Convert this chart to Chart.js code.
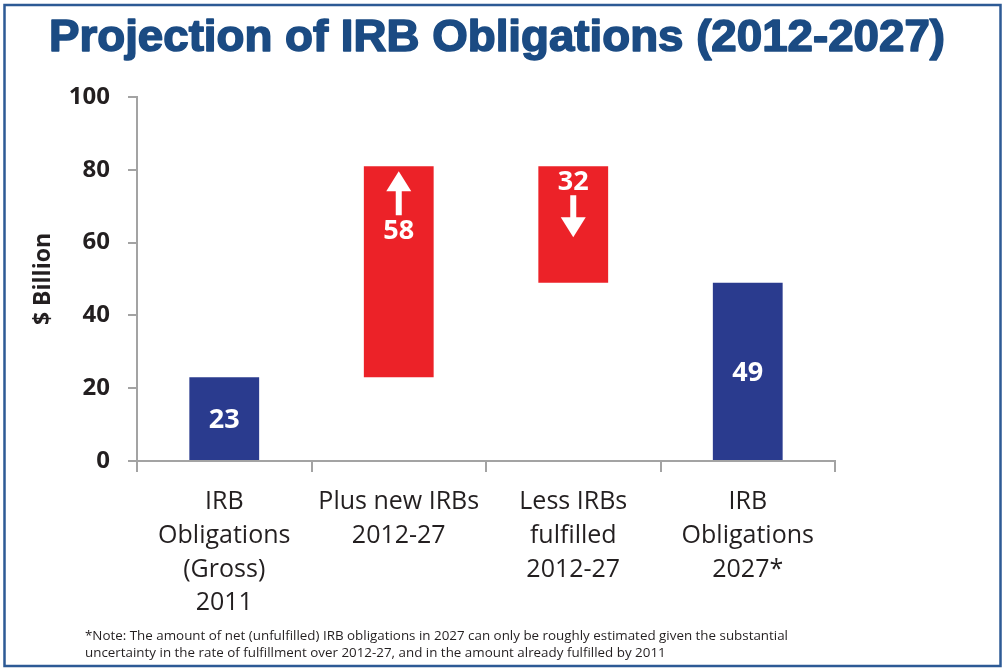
<!DOCTYPE html>
<html>
<head>
<meta charset="utf-8">
<title>Projection of IRB Obligations (2012-2027)</title>
<script src="https://cdn.jsdelivr.net/npm/chart.js@4.4.1/dist/chart.umd.min.js"></script>
<style>
    html, body { margin: 0; padding: 0; background: #ffffff; }
    #irbChart { display: block; }
</style>
</head>
<body>
<canvas id="irbChart" width="1003" height="669"></canvas>
<script>
const chartTitle = "Projection of IRB Obligations (2012-2027)";
const categories = [
    ["IRB", "Obligations", "(Gross)", "2011"],
    ["Plus new IRBs", "2012-27"],
    ["Less IRBs", "fulfilled", "2012-27"],
    ["IRB", "Obligations", "2027*"]
];
const stepValues = [23, 58, -32, 49];
const stepKinds = ["total", "increase", "decrease", "total"];
const yTicks = [0, 20, 40, 60, 80, 100];
const yTitle = "$ Billion";
const footnote = [
    "*Note: The amount of net (unfulfilled) IRB obligations in 2027 can only be roughly estimated given the substantial",
    "uncertainty in the rate of fulfillment over 2012-27, and in the amount already fulfilled by 2011"
];

const NAVY = "#2a3b8e";
const RED = "#ec2228";
const INK = "#231f20";
const AXIS = "#a3a3a3";

// waterfall: totals start at zero, steps float from the running level
let running = 0;
const ranges = stepValues.map((v, i) => {
    if (stepKinds[i] === "total") {
        running = v;
        return [0, v];
    }
    const from = running;
    running += v;
    return [Math.min(from, running), Math.max(from, running)];
});
const barColors = stepKinds.map(k => (k === "total" ? NAVY : RED));

function drawArrow(ctx, x, tipY, tailY) {
    const dir = tailY > tipY ? 1 : -1;
    const headLen = 20;
    const headHalf = 12.5;
    const shaft = 3;
    ctx.beginPath();
    ctx.moveTo(x, tipY);
    ctx.lineTo(x + headHalf, tipY + dir * headLen);
    ctx.lineTo(x + shaft, tipY + dir * headLen);
    ctx.lineTo(x + shaft, tailY);
    ctx.lineTo(x - shaft, tailY);
    ctx.lineTo(x - shaft, tipY + dir * headLen);
    ctx.lineTo(x - headHalf, tipY + dir * headLen);
    ctx.closePath();
    ctx.fill();
}

const framePlugin = {
    id: "frame",
    beforeDraw(chart) {
        const ctx = chart.ctx;
        ctx.save();
        ctx.fillStyle = "#ffffff";
        ctx.fillRect(0, 0, chart.width, chart.height);
        ctx.strokeStyle = "#2d5a95";
        ctx.lineWidth = 2.5;
        ctx.strokeRect(4.5, 5, 996, 661);
        ctx.restore();
    },
    afterDraw(chart) {
        const ctx = chart.ctx;
        ctx.save();

        // title, squeezed to its box width and thickened a little
        ctx.font = "bold 44px 'Liberation Sans', sans-serif";
        ctx.fillStyle = "#1b4b83";
        ctx.strokeStyle = "#1b4b83";
        ctx.lineWidth = 1.6;
        ctx.lineJoin = "round";
        ctx.textBaseline = "alphabetic";
        ctx.textAlign = "left";
        const tw = ctx.measureText(chartTitle).width;
        ctx.save();
        ctx.translate(49, 51);
        ctx.scale(896 / tw, 1);
        ctx.fillText(chartTitle, 0, 0);
        ctx.strokeText(chartTitle, 0, 0);
        ctx.restore();

        // footnote
        ctx.font = "12.5px 'Open Sans', sans-serif";
        ctx.fillStyle = INK;
        ctx.textBaseline = "middle";
        const fw = ctx.measureText(footnote[0]).width;
        const fs = 703 / fw;
        footnote.forEach((line, i) => {
            ctx.save();
            ctx.translate(85, 636 + i * 17);
            ctx.scale(fs, 1);
            ctx.fillText(line, 0, 0);
            ctx.restore();
        });

        ctx.restore();
    }
};

const barLabelPlugin = {
    id: "barLabels",
    afterDatasetsDraw(chart) {
        const ctx = chart.ctx;
        const meta = chart.getDatasetMeta(0);
        ctx.save();
        ctx.fillStyle = "#ffffff";
        ctx.font = "bold 27px 'Open Sans', sans-serif";
        ctx.textAlign = "center";
        ctx.textBaseline = "middle";
        meta.data.forEach((bar, i) => {
            const text = String(Math.abs(stepValues[i]));
            const top = Math.min(bar.y, bar.base);
            const bottom = Math.max(bar.y, bar.base);
            if (stepKinds[i] === "increase") {
                drawArrow(ctx, bar.x, top + 5, top + 49);
                ctx.fillText(text, bar.x, top + 65);
            } else if (stepKinds[i] === "decrease") {
                ctx.fillText(text, bar.x, top + 16);
                drawArrow(ctx, bar.x, top + 71, top + 29);
            } else {
                ctx.fillText(text, bar.x, (top + bottom) / 2 + 2);
            }
        });
        ctx.restore();
    }
};

new Chart(document.getElementById("irbChart"), {
    type: "bar",
    data: {
        labels: categories,
        datasets: [{
            data: ranges,
            backgroundColor: barColors,
            borderWidth: 0,
            borderSkipped: false,
            categoryPercentage: 1,
            barPercentage: 0.4
        }]
    },
    options: {
        responsive: false,
        animation: false,
        devicePixelRatio: 1,
        layout: { padding: { top: 97, right: 168, bottom: 0, left: 0 } },
        plugins: {
            legend: { display: false },
            tooltip: { enabled: false },
            title: { display: false }
        },
        scales: {
            x: {
                grid: {
                    display: true,
                    drawOnChartArea: false,
                    drawTicks: true,
                    tickLength: 11,
                    color: AXIS,
                    lineWidth: 2
                },
                border: { color: AXIS, width: 2 },
                ticks: {
                    color: INK,
                    padding: 13,
                    maxRotation: 0,
                    autoSkip: false,
                    font: { family: "'Open Sans', sans-serif", size: 25, lineHeight: 1.35 }
                },
                afterFit(scale) { scale.height = 208; }
            },
            y: {
                min: 0,
                max: 100,
                afterBuildTicks(scale) { scale.ticks = yTicks.map(v => ({ value: v })); },
                grid: {
                    display: true,
                    drawOnChartArea: false,
                    drawTicks: true,
                    tickLength: 9,
                    color: AXIS,
                    lineWidth: 2
                },
                border: { color: AXIS, width: 2 },
                ticks: {
                    color: INK,
                    padding: 18,
                    font: { family: "'Open Sans', sans-serif", size: 24, weight: "bold" }
                },
                title: {
                    display: true,
                    text: yTitle,
                    color: INK,
                    padding: { top: 30, bottom: 0 },
                    font: { family: "'Open Sans', sans-serif", size: 23, weight: "bold" }
                },
                afterFit(scale) { scale.width = 137; }
            }
        }
    },
    plugins: [framePlugin, barLabelPlugin]
});
</script>
</body>
</html>
